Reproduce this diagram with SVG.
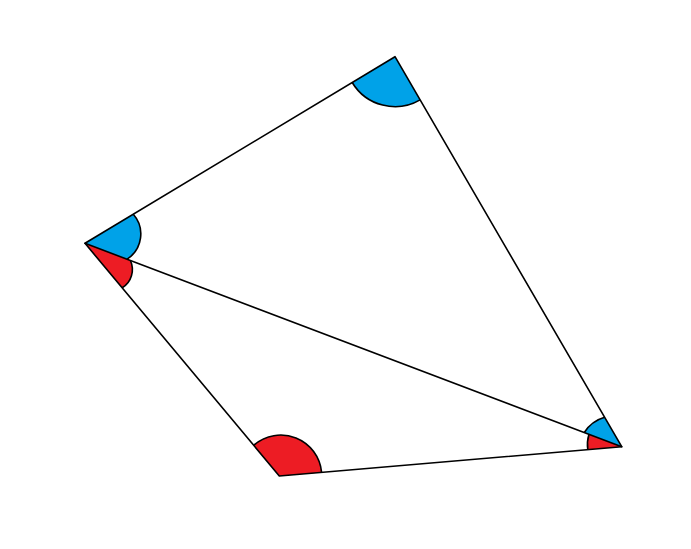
<svg xmlns="http://www.w3.org/2000/svg" width="691" height="549" viewBox="0 0 691 549">
<style>
.blue{fill:#00A2E8;stroke:none}
.red{fill:#ED1C24;stroke:none}
.arc{fill:none;stroke:#000;stroke-width:1.6}
.edge{fill:none;stroke:#000;stroke-width:1.6;stroke-linecap:round;stroke-linejoin:round}
</style>
<rect width="691" height="549" fill="#fff"/>
<g id="angle-B">
<path class="blue" d="M395,56.7 L352.2,82.5 A50,50 0 0 0 420.1,99.9 Z"/>
<path class="arc" d="M352.2,82.5 A50,50 0 0 0 420.1,99.9"/>
</g>
<g id="angle-A-blue">
<path class="blue" d="M85,243.3 L133.3,214.2 A30,30 0 0 1 127.1,259.2 Z"/>
<path class="arc" d="M133.3,214.2 A30,30 0 0 1 127.1,259.2"/>
</g>
<g id="angle-A-red">
<path class="red" d="M85,243.3 L130.4,260.5 A21.5,21.5 0 0 1 122.2,287.8 Z"/>
<path class="arc" d="M130.4,260.5 A21.5,21.5 0 0 1 122.2,287.8"/>
</g>
<g id="angle-D">
<path class="red" d="M279.3,476 L253.7,445.3 A41,41 0 0 1 321.6,472.4 Z"/>
<path class="arc" d="M253.7,445.3 A41,41 0 0 1 321.6,472.4"/>
</g>
<g id="angle-C-blue">
<path class="blue" d="M621.7,446.7 L604.6,417.3 A36,36 0 0 0 584.3,432.5 Z"/>
<path class="arc" d="M604.6,417.3 A36,36 0 0 0 584.3,432.5"/>
</g>
<g id="angle-C-red">
<path class="red" d="M621.7,446.7 L589,434.3 A34,34 0 0 0 587.8,449.6 Z"/>
<path class="arc" d="M589,434.3 A34,34 0 0 0 587.8,449.6"/>
</g>
<g id="connectors">
<path class="edge" d="M85,243.3 L395,56.7 L621.7,446.7 L279.3,476 Z"/>
<path class="edge" d="M85,243.3 L621.7,446.7"/>
</g>
</svg>
